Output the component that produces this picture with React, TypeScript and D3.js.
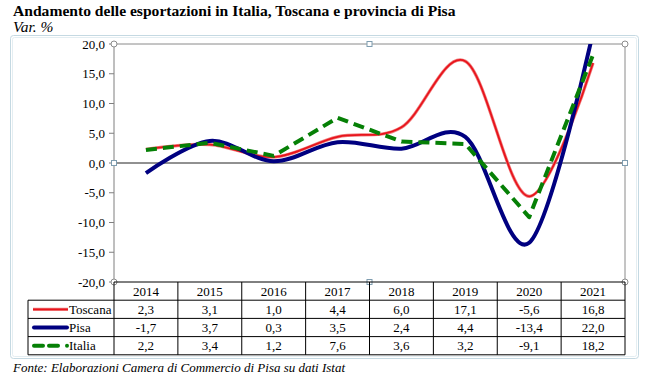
import React from "react";
import * as d3 from "d3";

const years = ["2014", "2015", "2016", "2017", "2018", "2019", "2020", "2021"];
const toscana = [2.3, 3.1, 1.0, 4.4, 6.0, 17.1, -5.6, 16.8];
const pisa = [-1.7, 3.7, 0.3, 3.5, 2.4, 4.4, -13.4, 22.0];
const italia = [2.2, 3.4, 1.2, 7.6, 3.6, 3.2, -9.1, 18.2];
const yTicks = [20, 15, 10, 5, 0, -5, -10, -15, -20];

const fmt = (v: number) => v.toFixed(1).replace(".", ",");

export default function App() {
  const W = 663, H = 380;
  const left = 114, right = 625, top = 44, bottom = 282;
  const x = d3.scaleBand<string>().domain(years).range([left, right]);
  const y = d3.scaleLinear().domain([-20, 20]).range([bottom, top]);
  const cx = (i: number) => (x(years[i]) as number) + x.bandwidth() / 2;

  const smooth = d3.line<number>().x((_, i) => cx(i)).y(d => y(d)).curve(d3.curveCardinal.tension(0));
  const straight = d3.line<number>().x((_, i) => cx(i)).y(d => y(d));

  const rowH = 18.2;
  const rows = [
    { name: "Toscana", data: toscana },
    { name: "Pisa", data: pisa },
    { name: "Italia", data: italia },
  ];
  const tableTop = bottom;
  const font = '"Liberation Serif"';
  const fs = { fontFamily: font };
  const frameColor = "#c5d9e2";

  return (
    <svg width={W} height={H} style={{ position: "absolute", left: 0, top: 0, background: "#fff", fontFamily: font }}>
      <defs>
        <clipPath id="plot">
          <rect x={left} y={top} width={right - left} height={bottom - top} />
        </clipPath>
      </defs>
      <text x={13} y={16} fontSize={15.6} fontWeight="bold" style={fs}>Andamento delle esportazioni in Italia, Toscana e provincia di Pisa</text>
      <text x={13} y={31.5} fontSize={15.5} fontStyle="italic" style={fs}>Var. %</text>

      {/* chart frame */}
      <rect x={10.5} y={35.5} width={628} height={323} rx={3} fill="none" stroke={frameColor} strokeWidth={1} />
      <rect x={12.5} y={37.5} width={624} height={319} rx={2} fill="none" stroke="#e4eef2" strokeWidth={1} />

      {/* plot area border */}
      <line x1={left} x2={right} y1={top} y2={top} stroke="#8a8a8a" />
      <line x1={right} x2={right} y1={top} y2={bottom} stroke="#8a8a8a" />
      <line x1={left} x2={left} y1={top} y2={bottom} stroke="#7f7f7f" />
      {yTicks.map(t => (
        <g key={t}>
          <line x1={left - 5} x2={left} y1={y(t)} y2={y(t)} stroke="#7f7f7f" />
          <text x={left - 9} y={y(t) + 4.5} fontSize={13} textAnchor="end" style={fs}>{fmt(t)}</text>
        </g>
      ))}
      <line x1={left} x2={right} y1={y(0)} y2={y(0)} stroke="#222" strokeWidth={1} />

      {/* lines */}
      <g clipPath="url(#plot)" fill="none" strokeLinejoin="round">
        <path d={smooth(toscana) as string} stroke="#f08080" strokeWidth={3.2} />
        <path d={smooth(toscana) as string} stroke="#e8141c" strokeWidth={1.8} />
        <path d={smooth(pisa) as string} stroke="#000080" strokeWidth={4} />
        <path d={straight(italia) as string} stroke="#068006" strokeWidth={4} strokeDasharray="11,6" />
      </g>

      {/* selection handles */}
      {[[left, top], [right, top], [left, bottom], [right, bottom]].map(([a, b], i) => (
        <circle key={i} cx={a} cy={b} r={3} fill="#fff" stroke="#8c8c8c" />
      ))}
      {[[left, y(0)], [right, y(0)], [(left + right) / 2, top], [(left + right) / 2, bottom]].map(([a, b], i) => (
        <rect key={i} x={a - 2.5} y={b - 2.5} width={5} height={5} fill="#fff" stroke="#7f9db0" />
      ))}

      {/* data table */}
      <g stroke="#000" strokeWidth={1} fill="none">
        <line x1={left} x2={right} y1={tableTop} y2={tableTop} />
        {[1, 2, 3, 4].map(r => (
          <line key={r} x1={28} x2={right} y1={tableTop + r * rowH} y2={tableTop + r * rowH} />
        ))}
        <line x1={28} x2={28} y1={tableTop + rowH} y2={tableTop + 4 * rowH} />
        {years.map(yr => (
          <line key={yr} x1={x(yr) as number} x2={x(yr) as number} y1={tableTop} y2={tableTop + 4 * rowH} />
        ))}
        <line x1={right} x2={right} y1={tableTop} y2={tableTop + 4 * rowH} />
      </g>
      {years.map((yr, i) => (
        <text key={yr} x={cx(i)} y={tableTop + rowH / 2 + 4.5} fontSize={13} textAnchor="middle" style={fs}>{yr}</text>
      ))}
      {rows.map((r, ri) => {
        const rowY = tableTop + (ri + 1) * rowH + rowH / 2;
        return (
          <g key={r.name}>
            {ri === 0 && (
              <g>
                <line x1={33} x2={68} y1={rowY} y2={rowY} stroke="#f08080" strokeWidth={3.2} />
                <line x1={33} x2={68} y1={rowY} y2={rowY} stroke="#e8141c" strokeWidth={1.8} />
              </g>
            )}
            {ri === 1 && <line x1={34} x2={67} y1={rowY} y2={rowY} stroke="#000080" strokeWidth={4} strokeLinecap="round" />}
            {ri === 2 && (
              <g>
                <line x1={34} x2={63} y1={rowY} y2={rowY} stroke="#068006" strokeWidth={4} strokeDasharray="9,6" strokeLinecap="round" />
                <circle cx={67} cy={rowY} r={2} fill="#068006" />
              </g>
            )}
            <text x={69} y={rowY + 4.5} fontSize={13} style={fs}>{r.name}</text>
            {r.data.map((v, i) => (
              <text key={i} x={cx(i)} y={rowY + 4.5} fontSize={13} textAnchor="middle" style={fs}>{fmt(v)}</text>
            ))}
          </g>
        );
      })}

      <text x={13} y={372} fontSize={13} fontStyle="italic" style={fs}>Fonte: Elaborazioni Camera di Commercio di Pisa su dati Istat</text>
    </svg>
  );
}
